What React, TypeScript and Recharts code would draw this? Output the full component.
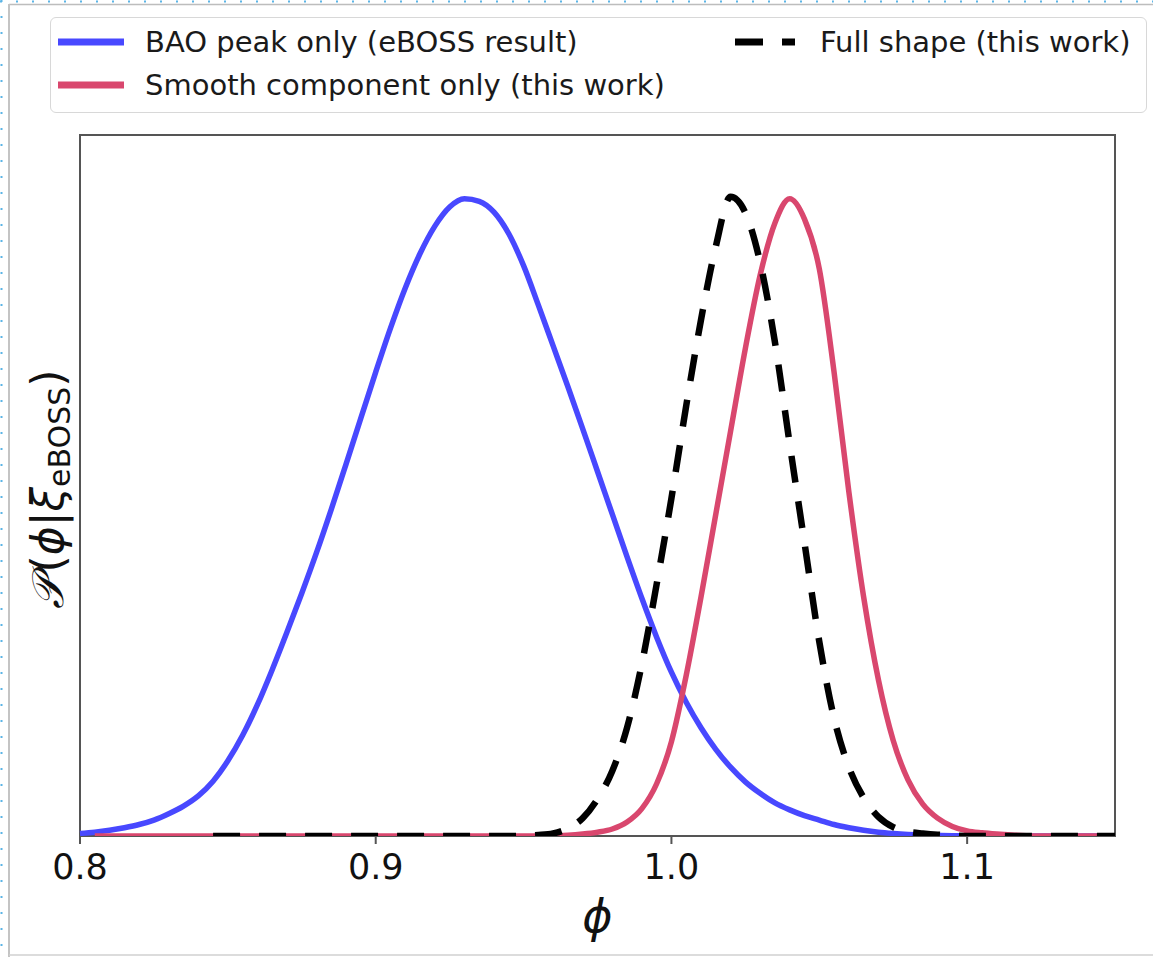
import React from "react";
import { LineChart, Line, XAxis, YAxis, ReferenceArea, Legend } from "recharts";

// phi grid (0.005 steps)
const phi = [
  0.8, 0.805, 0.81, 0.815, 0.82, 0.825, 0.83, 0.835, 0.84, 0.845,
  0.85, 0.855, 0.86, 0.865, 0.87, 0.875, 0.88, 0.885, 0.89, 0.895,
  0.9, 0.905, 0.91, 0.915, 0.92, 0.925, 0.93, 0.935, 0.94, 0.945,
  0.95, 0.955, 0.96, 0.965, 0.97, 0.975, 0.98, 0.985, 0.99, 0.995,
  1.0, 1.005, 1.01, 1.015, 1.02, 1.025, 1.03, 1.035, 1.04, 1.045,
  1.05, 1.055, 1.06, 1.065, 1.07, 1.075, 1.08, 1.085, 1.09, 1.095,
  1.1, 1.105, 1.11, 1.115, 1.12, 1.125, 1.13, 1.135, 1.14, 1.145, 1.15,
];

const baoPeak = [
  0.004, 0.006, 0.009, 0.013, 0.018, 0.025, 0.035, 0.047, 0.063, 0.086,
  0.118, 0.158, 0.206, 0.261, 0.32, 0.381, 0.445, 0.513, 0.584, 0.656,
  0.728, 0.797, 0.86, 0.914, 0.957, 0.987, 1.0, 0.996, 0.979, 0.945,
  0.895, 0.833, 0.769, 0.705, 0.639, 0.572, 0.505, 0.438, 0.373, 0.312,
  0.257, 0.21, 0.17, 0.136, 0.108, 0.085, 0.067, 0.052, 0.041, 0.032,
  0.025, 0.018, 0.013, 0.009, 0.006, 0.004, 0.0025, 0.0015, 0.001, 0.0005,
  0.0003, 0, 0, 0, 0, 0, 0, 0, 0, 0, 0,
];

const smoothOnly = [
  null, 0, 0, 0, 0, 0, 0, 0, 0, 0,
  0, 0, 0, 0, 0, 0, 0, 0, 0, 0,
  0, 0, 0, 0, 0, 0, 0, 0, 0, 0,
  0, 0, 0, 0.001, 0.003, 0.006, 0.011, 0.022, 0.043, 0.082,
  0.148, 0.252, 0.375, 0.505, 0.635, 0.765, 0.88, 0.962, 1.0, 0.968,
  0.89, 0.728, 0.54, 0.375, 0.245, 0.15, 0.088, 0.05, 0.028, 0.015,
  0.008, 0.005, 0.003, 0.0015, 0.0005, 0, 0, 0, 0, 0, 0,
];

const fullShape = [
  null, null, null, null, null, null, null, null, null, 0,
  0, 0, 0, 0, 0, 0, 0, 0, 0, 0,
  0, 0, 0, 0, 0, 0, 0, 0, 0, 0,
  0.0005, 0.0015, 0.004, 0.012, 0.028, 0.058, 0.102, 0.17, 0.27, 0.395,
  0.53, 0.675, 0.81, 0.925, 1.003, 0.978, 0.9, 0.775, 0.615, 0.46,
  0.305, 0.185, 0.108, 0.06, 0.03, 0.014, 0.007, 0.004, 0.002, 0.001,
  0, 0, 0, 0, 0, 0, 0, 0, 0, 0, 0,
];

const xTicks = [0.8, 0.9, 1.0, 1.1];

const BLUE = "#4848ff";
const RED = "#d9476e";
const FONT = "DejaVu Sans";

const data = phi.map((p, i) => ({
  phi: p,
  bao: baoPeak[i],
  smooth: smoothOnly[i],
  full: fullShape[i],
}));

function LegendBox() {
  return (
    <div
      style={{
        width: 1097,
        height: 96,
        boxSizing: "border-box",
        border: "1.5px solid #d8d8d8",
        borderRadius: 6,
        background: "#fff",
        position: "relative",
        fontFamily: FONT,
        fontSize: 29,
        color: "#1a1a1a",
      }}
    >
      <svg width={1094} height={93} style={{ position: "absolute", left: 0, top: 0 }}>
        <line x1={7} x2={73} y1={24} y2={24} stroke={BLUE} strokeWidth={7} />
        <line x1={7} x2={73} y1={67} y2={67} stroke={RED} strokeWidth={7} />
        <line x1={684} x2={744} y1={24} y2={24} stroke="#000" strokeWidth={7} strokeDasharray="28 19" />
      </svg>
      <div style={{ position: "absolute", left: 94, top: 7, lineHeight: "34px", whiteSpace: "nowrap" }}>
        BAO peak only (eBOSS result)
      </div>
      <div style={{ position: "absolute", left: 94, top: 50, lineHeight: "34px", whiteSpace: "nowrap" }}>
        Smooth component only (this work)
      </div>
      <div style={{ position: "absolute", left: 769, top: 7, lineHeight: "34px", whiteSpace: "nowrap" }}>
        Full shape (this work)
      </div>
    </div>
  );
}

// axis titles: x label under the axis, y label rotated left of the plot
function AxisTitles(props: any) {
  const { viewBox } = props;
  const plotTop = 135;
  const cy = (plotTop + viewBox.y) / 2 + 4;
  return (
    <g>
      <text
        x={viewBox.x + viewBox.width / 2}
        y={viewBox.y + 96}
        textAnchor="middle"
        fontFamily={FONT}
        fontStyle="italic"
        fontSize={46}
        fill="#111"
      >
        ϕ
      </text>
      <text
        transform={`translate(${viewBox.x - 17},${cy}) rotate(-90)`}
        textAnchor="middle"
        fontFamily={FONT}
        fontSize={44}
        fill="#111"
      >
        <tspan fontFamily="DejaVu Serif" fontStyle="italic">𝒫</tspan>
        <tspan dx={5}>(</tspan>
        <tspan fontStyle="italic">ϕ</tspan>
        <tspan>|</tspan>
        <tspan fontStyle="italic">ξ</tspan>
        <tspan fontSize={30} dy={7}>eBOSS</tspan>
        <tspan dy={-7}>)</tspan>
      </text>
    </g>
  );
}

export default function App() {
  return (
    <div style={{ position: "absolute", left: 0, top: 0, width: 1153, height: 957, background: "#fff" }}>
      <LineChart
        width={1153}
        height={957}
        data={data}
        margin={{ top: 135, right: 38, bottom: 61, left: 80 }}
      >
        <ReferenceArea
          x1={0.8}
          x2={1.15}
          y1={0}
          y2={1.1}
          fill="none"
          stroke="#555"
          strokeWidth={2}
          ifOverflow="visible"
        />
        <XAxis
          dataKey="phi"
          type="number"
          domain={[0.8, 1.15]}
          ticks={xTicks}
          tickFormatter={(v: number) => v.toFixed(1)}
          height={60}
          axisLine={false}
          tickSize={8}
          tickMargin={10}
          tickLine={{ stroke: "#555", strokeWidth: 2 }}
          tick={{ fontFamily: FONT, fontSize: 35, fill: "#111" }}
          label={{ content: AxisTitles }}
        />
        <YAxis type="number" domain={[0, 1.1]} allowDataOverflow hide />
        <Legend
          layout="horizontal"
          verticalAlign="middle"
          align="center"
          wrapperStyle={{ top: 17, left: 50, width: 1097, height: 96 }}
          content={() => <LegendBox />}
        />
        <Line
          type="monotone"
          dataKey="bao"
          name="BAO peak only (eBOSS result)"
          stroke={BLUE}
          strokeWidth={5.5}
          dot={false}
          activeDot={false}
          isAnimationActive={false}
        />
        <Line
          type="monotone"
          dataKey="smooth"
          name="Smooth component only (this work)"
          stroke={RED}
          strokeWidth={5.5}
          dot={false}
          activeDot={false}
          isAnimationActive={false}
        />
        <Line
          type="monotone"
          dataKey="full"
          name="Full shape (this work)"
          stroke="#000"
          strokeWidth={6.5}
          strokeDasharray="27 19"
          dot={false}
          activeDot={false}
          isAnimationActive={false}
        />
      </LineChart>
      <svg
        width={1153}
        height={957}
        style={{ position: "absolute", left: 0, top: 0, pointerEvents: "none" }}
      >
        <line x1={0} x2={1153} y1={1.5} y2={1.5} stroke="#5ab4e6" strokeWidth={2} strokeDasharray="2 14" />
        <line x1={1.5} x2={1.5} y1={0} y2={957} stroke="#5ab4e6" strokeWidth={2} strokeDasharray="2 14" />
        <line x1={9} x2={1153} y1={4.5} y2={4.5} stroke="#bdbdbd" strokeWidth={1.5} />
        <line x1={9} x2={9} y1={4} y2={957} stroke="#c4c4c4" strokeWidth={2} />
        <line x1={9} x2={1153} y1={955} y2={955} stroke="#d0d0d0" strokeWidth={1.5} />
      </svg>
    </div>
  );
}
